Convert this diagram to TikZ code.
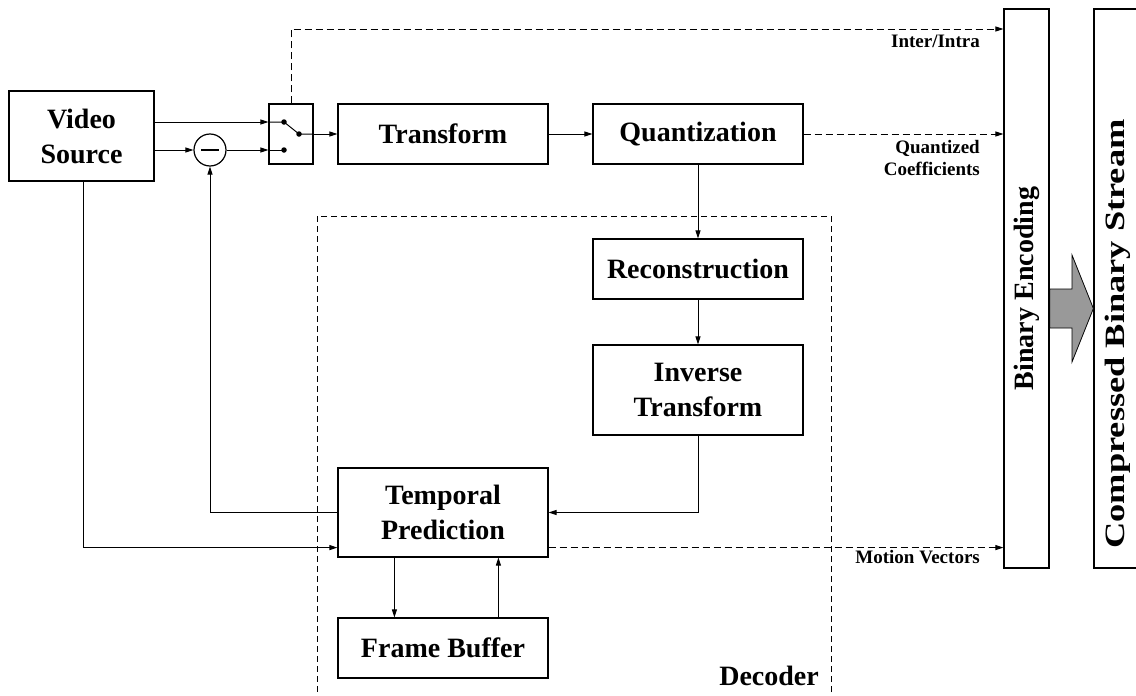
\documentclass[tikz,border=0pt]{standalone}
\usepackage{fontspec}
\usepackage{graphicx}
\setmainfont{Liberation Serif}
\usetikzlibrary{arrows.meta,calc}
\begin{document}
\begin{tikzpicture}[x=1pt,y=-1pt,
  box/.style={draw, line width=1.2pt, minimum width=210pt, minimum height=60pt, inner sep=0pt, align=center, font=\bfseries\fontsize{28}{35}\selectfont},
  lbl/.style={font=\bfseries\fontsize{19}{22}\selectfont, align=right, inner sep=0pt},
  arr/.style={-{Triangle[length=8pt,width=5pt]}, line width=1pt},
  ln/.style={line width=1pt},
  dsh/.style={dash pattern=on 7pt off 4pt, line width=1pt},
  dot/.style={circle, fill, inner sep=0pt, minimum size=5.5pt}]
\useasboundingbox (0,0) rectangle (1136,696);
\clip (0,0) rectangle (1136,696);
% boxes
\node[box, minimum width=145pt, minimum height=90pt] (vs) at (81.5,136) {Video\\Source};
\node[draw, line width=1.2pt, minimum width=44pt, minimum height=60pt, inner sep=0pt] (sw) at (291,134) {};
\node[box] (tr) at (443,134) {Transform};
\node[box] (qu) at (698,134) {Quantization};
\node[box] (re) at (698,269) {Reconstruction};
\node[box, minimum height=90pt] (it) at (698,390) {Inverse\\Transform};
\node[box, minimum height=89pt] (tp) at (443,512.5) {Temporal\\Prediction};
\node[box] (fb) at (443,648) {Frame Buffer};
\node[draw, line width=1.2pt, minimum width=45pt, minimum height=559pt, inner sep=0pt] (be) at (1026.5,288.5) {};
\node[rotate=90, font=\bfseries\fontsize{28}{35}\selectfont, inner sep=0pt] (bet) at (be.center) {Binary Encoding};
\node[draw, line width=1.2pt, minimum width=48pt, minimum height=559pt, inner sep=0pt] (cb) at (1118,288.5) {};
\node[rotate=90, font=\bfseries\fontsize{28}{35}\selectfont, inner sep=0pt] (cbt) at (1118,334) {\scalebox{1.3}[1]{Compressed Binary Stream}};
% subtractor
\node[draw, circle, line width=1.2pt, minimum size=32pt, inner sep=0pt] (sub) at (210,150) {};
\draw[line width=1.2pt] ($(sub.center)+(-9,0)$) -- ($(sub.center)+(9,0)$);
% switch dots
\node[dot] (d1) at (284,122) {};
\node[dot] (d2) at (299,134) {};
\node[dot] (d3) at (284,150) {};
\draw[ln] (sw.west |- d1) -- (d1.center) -- (d2.center) -- (sw.east |- d2);
\draw[ln] (sw.west |- d3) -- (d3.center);
% decoder region
\coordinate (dtl) at (317,216);
\coordinate (dbr) at (831,712);
\draw[dash pattern=on 6pt off 4pt, line width=0.9pt] (dtl) rectangle (dbr);
\node[font=\bfseries\fontsize{28}{35}\selectfont, inner sep=0pt, anchor=base east] (dec) at (819,685) {Decoder};
% connectors
\draw[arr] (vs.east |- d1) -- (sw.west |- d1);
\draw[arr] (vs.east |- sub) -- (sub.west);
\draw[arr] (sub.east) -- (sw.west |- d3);
\draw[arr] (sw.east |- d2) -- (tr.west);
\draw[arr] (tr.east) -- (qu.west);
\draw[arr] (qu.south) -- (re.north);
\draw[arr] (re.south) -- (it.north);
\draw[arr] (it.south) -- (it.south |- tp.east) -- (tp.east);
\draw[arr] (tp.west) -- (sub.south |- tp.west) -- (sub.south);
\coordinate (mv) at ($(tp.south west)+(0,-10)$);
\coordinate (vsb) at ($(vs.south)+(1.5,0)$);
\draw[arr] (vsb) -- (vsb |- mv) -- (mv);
\draw[arr] ($(tp.south west)+(57,0)$) -- ($(fb.north west)+(57,0)$);
\draw[arr] ($(fb.north west)+(161,0)$) -- ($(tp.south west)+(161,0)$);
% dashed to binary encoding
\coordinate (ii) at (291,29);
\draw[dsh, -{Triangle[length=8pt,width=5pt]}] (sw.north) -- (ii) -- (be.west |- ii);
\draw[dsh, -{Triangle[length=8pt,width=5pt]}] (qu.east) -- (be.west |- qu.east);
\draw[dsh, -{Triangle[length=8pt,width=5pt]}] (tp.east |- mv) -- (be.west |- mv);
\node[lbl, anchor=base east] (l1) at (980,47) {Inter/Intra};
\node[lbl, anchor=base east] (l2) at (980,175) {Quantized\\Coefficients};
\node[lbl, anchor=base east] (l3) at (980,563) {Motion Vectors};
% big arrow
\filldraw[fill=black!40, line width=0.8pt] (be.east |- 0,289) -- (1072,289) -- (1072,255) -- (cb.west |- 0,308.5) -- (1072,362) -- (1072,328) -- (be.east |- 0,328) -- cycle;
\end{tikzpicture}
\end{document}
